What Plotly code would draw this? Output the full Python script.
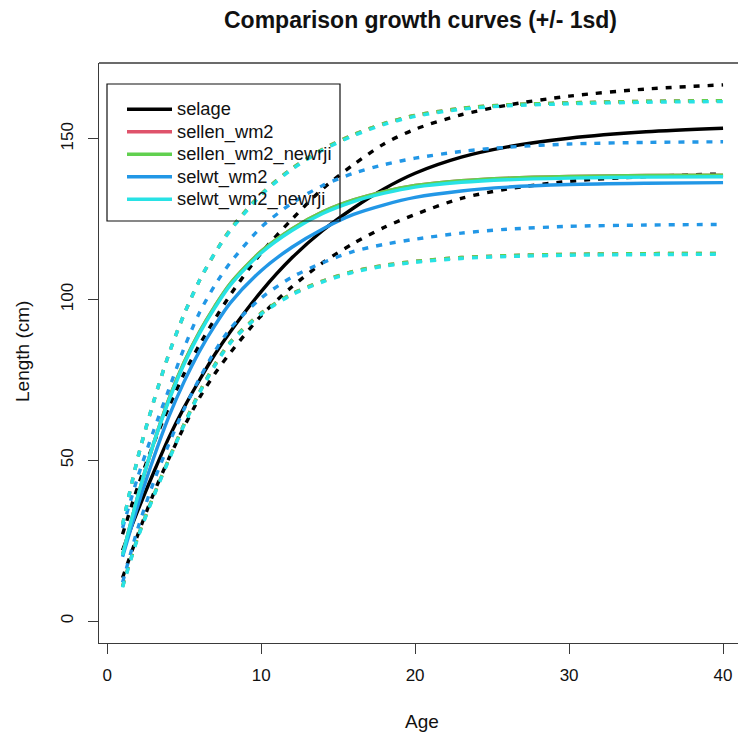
import plotly.graph_objects as go

# ---- data ----
ages = [1, 2, 3, 4, 5, 6, 7, 8, 10, 12, 14, 16, 18, 20, 23, 26, 30, 35, 40]

selage_mean = [22, 34.5, 46, 57, 66.5, 75, 83, 90, 102.5, 113, 121.5, 128.5, 134.5, 139.3, 144.3, 147.5, 150.2, 152.2, 153.3]
selage_hi = [27, 42, 55, 66.5, 77, 86, 94, 101.5, 114.5, 125, 134.5, 142, 148.5, 153, 157.5, 160.5, 163.3, 165.5, 166.8]
selage_lo = [13.5, 27, 39.5, 50.5, 60.5, 69.5, 77, 83.5, 95, 104, 111.5, 117.5, 122.5, 126.5, 131.5, 134.4, 136.8, 138.3, 139.1]

sellen_wm2_mean = [20.5, 39, 55, 69, 80.5, 90, 98, 105, 115, 122, 127.3, 131, 133.6, 135.5, 137, 137.8, 138.3, 138.6, 138.7]
sellen_wm2_hi = [30, 51, 68, 83, 95.5, 106, 114.5, 121.8, 132.8, 140.8, 146.8, 151.3, 154.8, 157.3, 159.5, 160.6, 161.2, 161.7, 161.9]
sellen_wm2_lo = [10.8, 26.3, 38.8, 50.3, 61.3, 71.3, 79.8, 86.8, 95.8, 101.8, 105.8, 108.8, 110.7, 111.9, 113.1, 113.7, 114.1, 114.3, 114.4]

sellen_newrji_mean = [20.5, 39, 55, 69, 80.5, 90, 98, 105, 115, 122, 127.3, 131, 133.6, 135.5, 137, 137.8, 138.3, 138.6, 138.7]
sellen_newrji_hi = [30, 51, 68, 83, 95.5, 106, 114.5, 121.8, 132.8, 140.8, 146.8, 151.3, 154.8, 157.3, 159.5, 160.6, 161.2, 161.7, 161.9]
sellen_newrji_lo = [10.8, 26.3, 38.8, 50.3, 61.3, 71.3, 79.8, 86.8, 95.8, 101.8, 105.8, 108.8, 110.7, 111.9, 113.1, 113.7, 114.1, 114.3, 114.4]

selwt_wm2_mean = [20, 36, 50.5, 63.5, 74.5, 84, 92, 99, 109, 116.3, 122, 126.5, 129.5, 131.8, 133.8, 135, 135.8, 136.2, 136.4]
selwt_wm2_hi = [29, 45, 59, 72, 85, 96, 104.5, 111.5, 122.5, 130, 135.5, 139.3, 142, 144, 146.1, 147.4, 148.4, 148.9, 149.1]
selwt_wm2_lo = [12, 29, 43, 55, 66, 75.5, 84, 91, 100.5, 107, 111.5, 115, 117.2, 118.8, 120.7, 121.9, 122.8, 123.2, 123.4]

selwt_newrji_mean = [20.5, 39, 55, 68.5, 80, 89.5, 97.5, 104.5, 114.5, 121.5, 126.8, 130.5, 133.1, 135, 136.5, 137.3, 137.8, 138.1, 138.2]
selwt_newrji_hi = [30, 51, 68, 83, 95.5, 106, 114.5, 121.5, 132.5, 140.5, 146.5, 151, 154.5, 157, 159.2, 160.3, 160.9, 161.4, 161.6]
selwt_newrji_lo = [10.5, 26, 38.5, 50, 61, 71, 79.5, 86.5, 95.5, 101.5, 105.5, 108.5, 110.4, 111.6, 112.8, 113.4, 113.8, 114, 114.1]

series_names = ["selage", "sellen_wm2", "sellen_wm2_newrji", "selwt_wm2", "selwt_wm2_newrji"]
series_colors = ["#000000", "#DF536B", "#61D04F", "#2297E6", "#28E2E5"]
series_mean = [selage_mean, sellen_wm2_mean, sellen_newrji_mean, selwt_wm2_mean, selwt_newrji_mean]
series_hi = [selage_hi, sellen_wm2_hi, sellen_newrji_hi, selwt_wm2_hi, selwt_newrji_hi]
series_lo = [selage_lo, sellen_wm2_lo, sellen_newrji_lo, selwt_wm2_lo, selwt_newrji_lo]

x_ticks = [0, 10, 20, 30, 40]
y_ticks = [0, 50, 100, 150]

FONT = "Liberation Sans, Arial, sans-serif"
AXC = "#3a3a3a"
TXT = "#111111"

fig = go.Figure()
for name, col, m, hi, lo in zip(series_names, series_colors, series_mean, series_hi, series_lo):
    # legend rows are spaced by the (smaller) legend font; the label itself is drawn at 18px
    fig.add_trace(go.Scatter(x=ages, y=m, mode="lines",
                             name='<span style="font-size:18.3px">%s</span>' % name,
                             hovertemplate=name + "<br>Age %{x}<br>Length %{y}<extra></extra>",
                             line=dict(color=col, width=3.4, shape="spline", smoothing=0.8)))
    for band in (hi, lo):
        fig.add_trace(go.Scatter(x=ages, y=band, mode="lines", showlegend=False, hoverinfo="skip",
                                 line=dict(color=col, width=3.4, dash="6px,8px", shape="spline", smoothing=0.8)))

# body margin is removed in the page (post_script), so the figure fills the window exactly
W, H = 738, 741
ML, MR, MT = 99, 0, 63
MB = H - 643
PW, PH = W - ML - MR, H - MT - MB

def px(xp):  # window pixel x -> paper
    return (xp - ML) / PW

def py(yp):  # window pixel y -> paper
    return (H - MB - yp) / PH

fig.update_layout(
    width=W, height=H,
    margin=dict(l=ML, r=MR, t=MT, b=MB, pad=0),
    paper_bgcolor="white", plot_bgcolor="white",
    font=dict(family=FONT, size=17, color=TXT),
    showlegend=True,
    legend=dict(x=px(122), y=py(93), xanchor="left", yanchor="top",
                bgcolor="rgba(0,0,0,0)", borderwidth=0,
                font=dict(family=FONT, size=15, color=TXT),
                itemwidth=45, tracegroupgap=0),
    xaxis=dict(range=[-0.53, 40.97], tickvals=x_ticks, ticktext=[str(v) for v in x_ticks],
               showgrid=False, zeroline=False, showline=True, linecolor=AXC, linewidth=1.3,
               ticks="outside", ticklen=10, tickcolor=AXC, tickwidth=1.3,
               tickfont=dict(family=FONT, size=17, color=TXT), ticklabelstandoff=6),
    yaxis=dict(range=[-6.8, 173.6], tickvals=y_ticks, ticktext=[str(v) for v in y_ticks],
               showgrid=False, zeroline=False, showline=True, linecolor=AXC, linewidth=1.3,
               ticks="outside", ticklen=10, tickcolor=AXC, tickwidth=1.3, tickangle=-90,
               tickfont=dict(family=FONT, size=17, color=TXT), ticklabelstandoff=8),
    shapes=[
        dict(type="line", xref="paper", yref="paper", x0=0, x1=1.01, y0=1, y1=1,
             line=dict(color=AXC, width=1.3)),
        dict(type="rect", xref="paper", yref="paper", x0=px(107), x1=px(340), y0=py(84), y1=py(221),
             line=dict(color=TXT, width=1.2), fillcolor="rgba(0,0,0,0)"),
    ],
    annotations=[
        dict(text="<b>Comparison growth curves (+/- 1sd)</b>", xref="paper", yref="paper",
             x=px(421), y=py(20), xanchor="center", yanchor="middle", showarrow=False,
             font=dict(family=FONT, size=23, color=TXT)),
        dict(text="Age", xref="paper", yref="paper", x=px(422), y=py(722),
             xanchor="center", yanchor="middle", showarrow=False,
             font=dict(family=FONT, size=19, color=TXT)),
        dict(text="Length (cm)", xref="paper", yref="paper", x=px(22), y=py(352),
             xanchor="center", yanchor="middle", showarrow=False, textangle=-90,
             font=dict(family=FONT, size=19, color=TXT)),
    ],
)

fig.write_html(
    "out.html",
    config={"displayModeBar": False},
    post_script="document.documentElement.style.margin='0';document.body.style.margin='0';"
                "document.body.style.padding='0';document.body.style.overflow='hidden';",
)
